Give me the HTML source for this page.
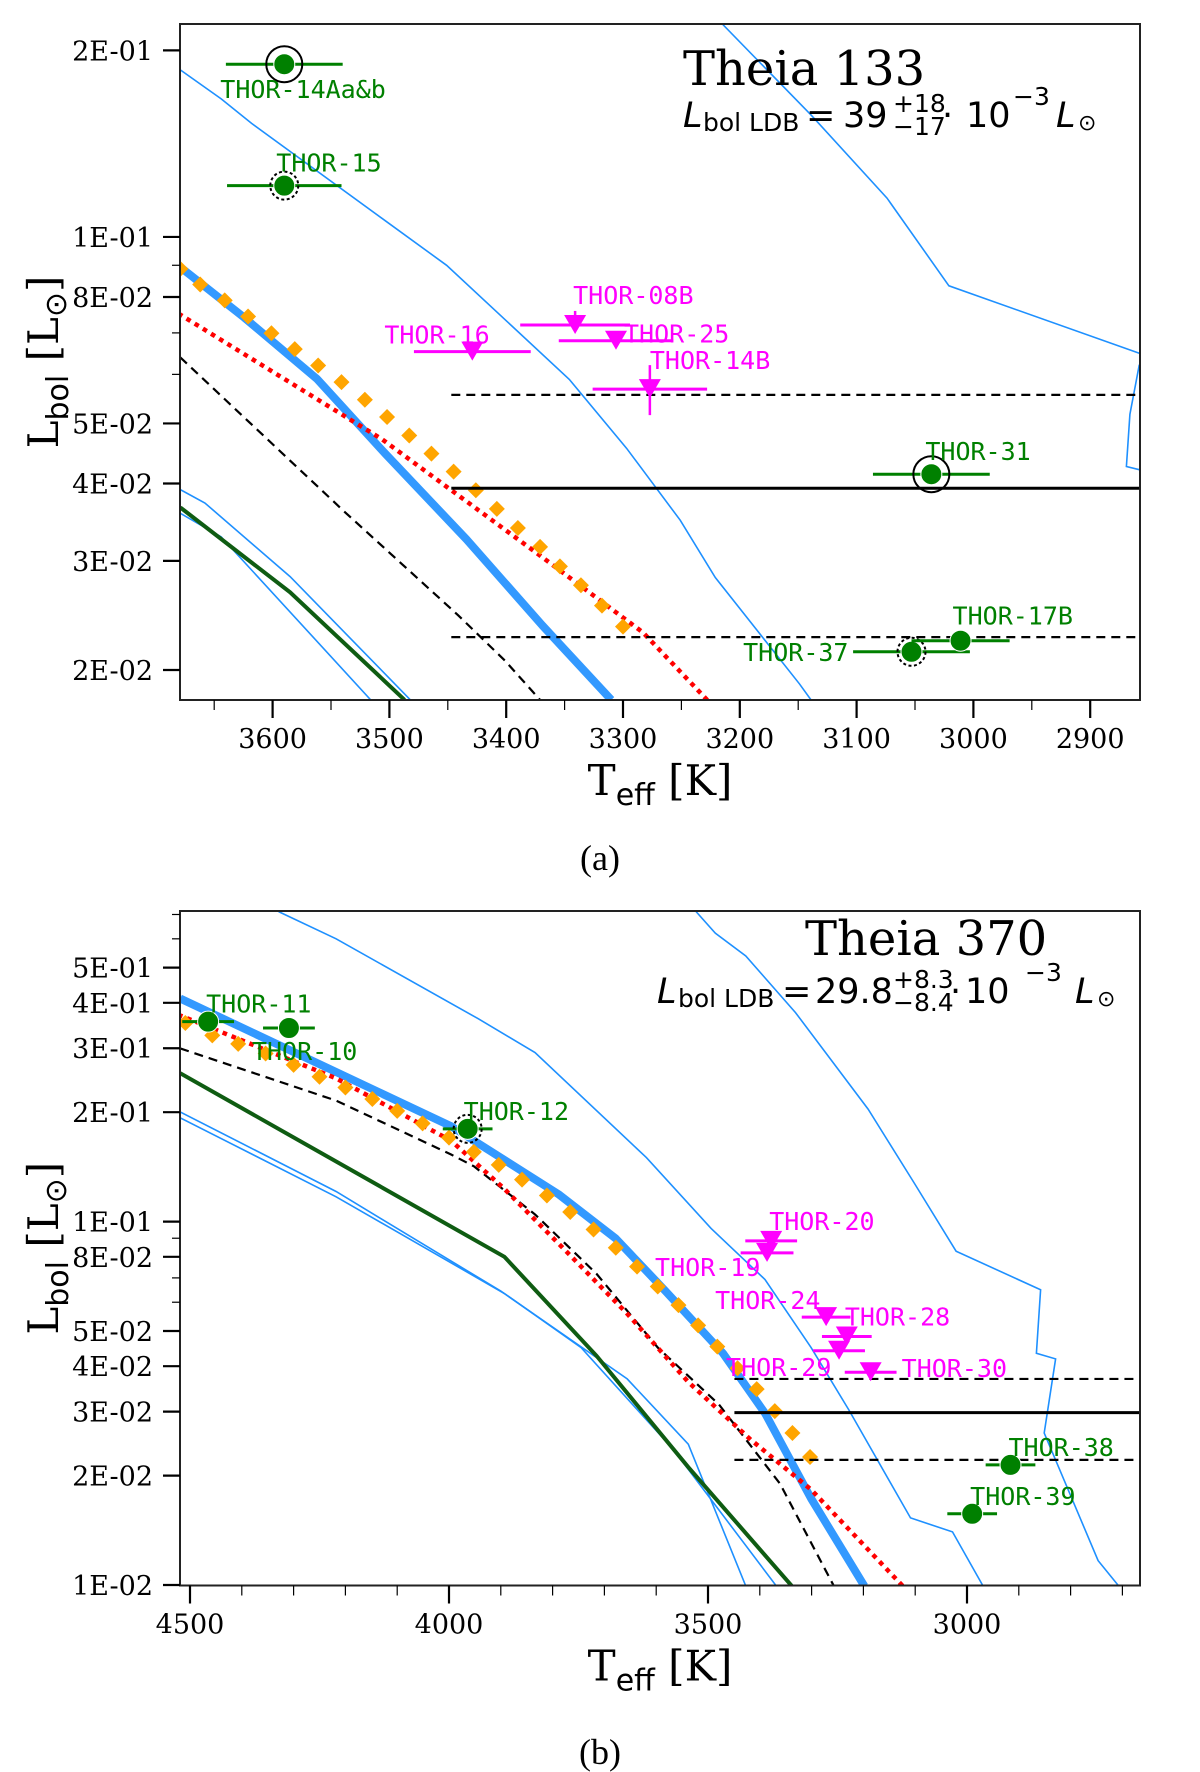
<!DOCTYPE html>
<html><head><meta charset="utf-8"><style>
html,body{margin:0;padding:0;background:#fff;}
svg{display:block;}
</style></head><body>
<svg id="fig" xmlns="http://www.w3.org/2000/svg" width="1200" height="1772" viewBox="0 0 1200 1772">
<defs>
<clipPath id="clipA"><rect x="180" y="24" width="960" height="676"/></clipPath>
<clipPath id="clipB"><rect x="180" y="911" width="960" height="674.5"/></clipPath>
</defs>
</svg>
<script>
// ===== Panel (a) Theia 133 data =====
const aThickT=[3679,3624,3562,3506,3434,3369,3310];
const aThickL=[0.0894,0.0740,0.0590,0.0452,0.0325,0.0236,0.0179];
const aDiaT=[3679,3662,3641,3621,3601,3581,3561,3541,3521,3502,3483,3464,3445,3426,3408,3390,3371,3354,3336,3318,3300];
const aDiaL=[0.0888,0.0838,0.0790,0.0744,0.0699,0.0659,0.0620,0.0583,0.0546,0.0512,0.0478,0.0447,0.0418,0.0390,0.0364,0.0339,0.0316,0.0294,0.0274,0.0254,0.0235];
const aRedT=[3679,3506,3375,3283,3228];
const aRedL=[0.0749,0.0471,0.0310,0.0230,0.0179];
const aDashT=[3679,3539,3441,3401,3371];
const aDashL=[0.0639,0.0361,0.0245,0.0207,0.0179];
const aGreenT=[3679,3585,3487];
const aGreenL=[0.0366,0.0267,0.0179];
const aBlue1T=[3679,3658,3585,3482];
const aBlue1L=[0.0391,0.0372,0.0283,0.0179];
const aBlue2T=[3679,3644,3516];
const aBlue2L=[0.0358,0.0328,0.0179];
const aBlue3T=[3679,3644,3618,3503,3451,3346,3297,3251,3221,3149,3139];
const aBlue3L=[0.186,0.167,0.1525,0.106,0.090,0.0589,0.0456,0.0349,0.0282,0.0190,0.0179];
const aBlue4T=[3215,3139,3074,3021,2858];
const aBlue4L=[0.2206,0.1574,0.1155,0.0834,0.0649];
const aBlue5T=[2858,2866,2869,2858];
const aBlue5L=[0.0622,0.0517,0.0426,0.0421];
const aLdb=[0.0393,0.0556,0.0226];
const aLdbStartT=3447;
const aStarNames=['THOR-14Aa&b','THOR-15','THOR-31','THOR-37','THOR-17B'];
const aStarT=[3590,3590,3036,3053,3011];
const aStarL=[0.190,0.121,0.0414,0.0214,0.0223];
const aStarErr=[50,49,50,50,42];
const aStarRing=['solid','dashed','solid','dashed','none'];
const aUpNames=['THOR-16','THOR-08B','THOR-25','THOR-14B'];
const aUpT=[3429,3341,3306,3277];
const aUpL=[0.0653,0.0721,0.0680,0.0568];
const aUpErr=[50,47,49,49];
const aXTicks=[3600,3500,3400,3300,3200,3100,3000,2900];
const aXMinor=[3650,3550,3450,3350,3250,3150,3050,2950];
const aYTicks=[0.2,0.1,0.08,0.05,0.04,0.03,0.02];
const aYTickLabels=['2E-01','1E-01','8E-02','5E-02','4E-02','3E-02','2E-02'];
const aYMinor=[0.09,0.07,0.06];

// ===== Panel (b) Theia 370 data =====
const bThickT=[4519,3996,3789,3678,3582,3471,3390,3301,3198];
const bThickL=[0.411,0.183,0.119,0.0898,0.0644,0.0434,0.0297,0.0173,0.00993];
const bDiaT=[4509,4457,4407,4354,4300,4250,4200,4148,4100,4051,4000,3952,3904,3859,3811,3766,3721,3678,3637,3597,3557,3519,3482,3443,3406,3371,3337,3303];
const bDiaL=[0.352,0.3255,0.3084,0.2901,0.2700,0.2503,0.2338,0.2175,0.2017,0.1863,0.1703,0.1556,0.1433,0.1305,0.1180,0.1063,0.0951,0.0847,0.0752,0.0663,0.0589,0.0518,0.0453,0.0395,0.0346,0.0301,0.0262,0.0225];
const bRedT=[4519,4218,3996,3893,3774,3656,3538,3420,3301,3124];
const bRedL=[0.369,0.248,0.167,0.123,0.0829,0.0558,0.0362,0.0253,0.0183,0.00993];
const bDashT=[4519,4218,3996,3952,3834,3715,3597,3479,3361,3257];
const bDashL=[0.2997,0.2153,0.153,0.142,0.1047,0.0718,0.045,0.0314,0.0190,0.00993];
const bGreenT=[4519,3893,3715,3538,3338];
const bGreenL=[0.256,0.080,0.0427,0.0211,0.00993];
const bBlue1T=[4519,4218,3900,3656,3538,3427];
const bBlue1L=[0.2004,0.121,0.0644,0.0369,0.0244,0.00993];
const bBlue2T=[4519,4218,3893,3745,3567,3368];
const bBlue2L=[0.193,0.117,0.0634,0.045,0.0236,0.00993];
const bBlue3T=[4329,4218,3944,3834,3619,3494,3390,3301,3228,3109,3028,2969];
const bBlue3L=[0.713,0.600,0.362,0.292,0.150,0.0958,0.0693,0.045,0.0303,0.0153,0.0140,0.00993];
const bBlue4T=[3523,3486,3427,3331,3191,3102,3021,2858,2866,2829,2851,2747,2707];
const bBlue4L=[0.713,0.622,0.538,0.376,0.204,0.1277,0.0829,0.0649,0.0434,0.0419,0.0262,0.01167,0.00993];
const bLdb=[0.0298,0.0369,0.0221];
const bLdbStartT=3449;
const bStarNames=['THOR-11','THOR-10','THOR-12','THOR-38','THOR-39'];
const bStarT=[4465,4309,3964,2916,2990];
const bStarL=[0.355,0.341,0.180,0.0214,0.0157];
const bStarErr=[50,50,48,48,48];
const bStarRing=['none','none','dashed','none','none'];
const bUpNames=['THOR-20','THOR-19','THOR-24','THOR-28','THOR-29','THOR-30'];
const bUpT=[3378,3386,3272,3232,3247,3186];
const bUpL=[0.0885,0.082,0.0546,0.0483,0.0441,0.0385];
const bUpErr=[50,51,47,48,50,50];
const bXTicks=[4500,4000,3500,3000];
const bXMinor=[4400,4300,4200,4100,3900,3800,3700,3600,3400,3300,3200,3100,2900,2800,2700];
const bYTicks=[0.5,0.4,0.3,0.2,0.1,0.08,0.05,0.04,0.03,0.02,0.01];
const bYTickLabels=['5E-01','4E-01','3E-01','2E-01','1E-01','8E-02','5E-02','4E-02','3E-02','2E-02','1E-02'];
const bYMinor=[0.7,0.6,0.09,0.07,0.06];

// ===== axis functions =====
function xa(T){return 272.6+(3600-T)*1.168;}
function ya(L){return 50.4+(Math.log10(0.2)-Math.log10(L))*619.6;}
function xb(T){return 190+(4500-T)*0.518;}
function yb(L){return 1221.6+(-1-Math.log10(L))*363.4;}

const NS='http://www.w3.org/2000/svg';
const svg=document.getElementById('fig');
function mk(tag,attrs,parent){const e=document.createElementNS(NS,tag);for(const k in attrs)e.setAttribute(k,attrs[k]);(parent||svg).appendChild(e);return e;}
function pts(Ts,Ls,fx,fy){return Ts.map((t,i)=>fx(t).toFixed(1)+','+fy(Ls[i]).toFixed(1)).join(' ');}

function panel(P){
  const g=mk('g',{});
  
  
  const plot=mk('g',{'clip-path':'url(#'+P.clip+')'},g);
  
  
  const fx=P.fx, fy=P.fy;
  function line(Ts,Ls,style,name){
    const e=mk('polyline',Object.assign({points:pts(Ts,Ls,fx,fy),fill:'none'},style),plot);
    
    
  }
  line(P.blue3T,P.blue3L,{stroke:'#1e90ff','stroke-width':1.6},P.id+'-isochrone-upper');
  line(P.blue4T,P.blue4L,{stroke:'#1e90ff','stroke-width':1.6},P.id+'-isochrone-right');
  if(P.blue5T) line(P.blue5T,P.blue5L,{stroke:'#1e90ff','stroke-width':1.6},P.id+'-isochrone-edge');
  line(P.blue1T,P.blue1L,{stroke:'#1e90ff','stroke-width':1.6},P.id+'-isochrone-lower-1');
  line(P.blue2T,P.blue2L,{stroke:'#1e90ff','stroke-width':1.6},P.id+'-isochrone-lower-2');
  line(P.greenT,P.greenL,{stroke:'#0f5c12','stroke-width':4},P.id+'-model-green');
  line(P.dashT,P.dashL,{stroke:'#000','stroke-width':2.2,'stroke-dasharray':'9 6'},P.id+'-model-dashed');
  line(P.thickT,P.thickL,{stroke:'#3399ff','stroke-width':8,'stroke-linejoin':'round'},P.id+'-model-thick-blue');
  line(P.redT,P.redL,{stroke:'#ff0000','stroke-width':4.5,'stroke-dasharray':'0.1 9.5','stroke-linecap':'square'},P.id+'-model-red-dotted');
  P.diaT.forEach((t,i)=>{
    const cx=fx(t), cy=fy(P.diaL[i]);
    const d=mk('polygon',{points:`${cx},${cy-8} ${cx+8},${cy} ${cx},${cy+8} ${cx-8},${cy}`,fill:'#ffa500'},plot);
    
    
  });
  const x0=fx(P.ldbStart);
  const styles=[{stroke:'#000','stroke-width':3},{stroke:'#000','stroke-width':2.2,'stroke-dasharray':'9 6'},{stroke:'#000','stroke-width':2.2,'stroke-dasharray':'9 6'}];
  const names=['ldb-line','ldb-upper-limit','ldb-lower-limit'];
  P.ldb.forEach((L,i)=>{
    const e=mk('line',Object.assign({x1:x0,x2:1140,y1:fy(L),y2:fy(L)},styles[i]),plot);
    
    
  });
  P.upT.forEach((t,i)=>{
    const cx=fx(t), cy=fy(P.upL[i]);
    const gg=mk('g',{},plot);
    
    
    mk('line',{x1:fx(t+P.upErr[i]),x2:fx(t-P.upErr[i]),y1:cy,y2:cy,stroke:'#ff00ff','stroke-width':3},gg);
    mk('polygon',{points:`${cx-11},${cy-10} ${cx+11},${cy-10} ${cx},${cy+9}`,fill:'#ff00ff'},gg);
    if(P.upVert&&P.upVert[i]) mk('line',{x1:cx,x2:cx,y1:cy-P.upVert[i][0],y2:cy+P.upVert[i][1],stroke:'#ff00ff','stroke-width':2.5},gg);
    const o=P.upOff[i];
    const tx=mk('text',{x:cx+o[0],y:cy+o[1],fill:'#ff00ff','font-family':'"DejaVu Sans Mono","Liberation Mono",monospace','font-size':25,'text-anchor':o[2]||'start'},gg);
    tx.textContent=P.upNames[i];
  });
  P.starT.forEach((t,i)=>{
    const cx=fx(t), cy=fy(P.starL[i]);
    const gg=mk('g',{},plot);
    
    
    mk('line',{x1:fx(t+P.starErr[i]),x2:fx(t-P.starErr[i]),y1:cy,y2:cy,stroke:'#008000','stroke-width':3},gg);
    mk('circle',{cx:cx,cy:cy,r:10.5,fill:'#008000',stroke:'#fff','stroke-width':1},gg);
    if(P.starRing[i]==='solid') mk('circle',{cx:cx,cy:cy,r:18,fill:'none',stroke:'#000','stroke-width':2},gg);
    if(P.starRing[i]==='dashed') mk('circle',{cx:cx,cy:cy,r:14,fill:'none',stroke:'#000','stroke-width':2,'stroke-dasharray':'3 2.5'},gg);
    const o=P.starOff[i];
    const tx=mk('text',{x:cx+o[0],y:cy+o[1],fill:'#008000','font-family':'"DejaVu Sans Mono","Liberation Mono",monospace','font-size':25,'text-anchor':o[2]||'start'},gg);
    tx.textContent=P.starNames[i];
  });
  const fr=mk('rect',{x:180,y:P.top,width:960,height:P.bottom-P.top,fill:'none',stroke:'#222','stroke-width':2},g);
  
  
  const xax=mk('g',{},g);
  
  
  P.xTicks.forEach(t=>{
    const x=fx(t);
    mk('line',{x1:x,x2:x,y1:P.bottom,y2:P.bottom+18,stroke:'#000','stroke-width':2.2},xax);
    const tx=mk('text',{x:x,y:P.bottom+48,'text-anchor':'middle','font-family':'"DejaVu Serif","Liberation Serif",serif','font-size':27},xax);
    tx.textContent=t;
  });
  P.xMinor.forEach(t=>{const x=fx(t);mk('line',{x1:x,x2:x,y1:P.bottom,y2:P.bottom+10,stroke:'#000','stroke-width':1.2},xax);});
  const yax=mk('g',{},g);
  
  
  P.yTicks.forEach((L,i)=>{
    const y=fy(L);
    mk('line',{x1:163,x2:180,y1:y,y2:y,stroke:'#000','stroke-width':2.2},yax);
    const tx=mk('text',{x:153,y:y+10,'text-anchor':'end','font-family':'"DejaVu Serif","Liberation Serif",serif','font-size':27},yax);
    tx.textContent=P.yLabels[i];
  });
  P.yMinor.forEach(L=>{const y=fy(L);mk('line',{x1:172,x2:180,y1:y,y2:y,stroke:'#000','stroke-width':1.2},yax);});
  const xt=mk('text',{x:660,y:P.bottom+95,'text-anchor':'middle','font-family':'"DejaVu Serif","Liberation Serif",serif','font-size':42},g);
  
  
  xt.innerHTML='T<tspan font-family="DejaVu Sans, sans-serif" font-size="30" dy="10">eff</tspan><tspan dy="-10"> [K]</tspan>';
  const cy=(P.top+P.bottom)/2;
  const yt=mk('text',{x:0,y:0,transform:`translate(58,${cy}) rotate(-90)`,'text-anchor':'middle','font-family':'"DejaVu Serif","Liberation Serif",serif','font-size':42},g);
  
  
  yt.innerHTML='L<tspan font-family="DejaVu Sans, sans-serif" font-size="30" dy="10">bol</tspan><tspan dy="-10"> [L</tspan><tspan font-family="DejaVu Sans, sans-serif" font-size="30" dy="8">⊙</tspan><tspan dy="-8">]</tspan>';
  const tt=mk('text',{x:P.titleX,y:P.titleY,'font-family':'"DejaVu Serif","Liberation Serif",serif','font-size':48},g);
  
  
  tt.textContent=P.title;
  const an=mk('g',{'font-family':'"DejaVu Sans","Liberation Sans",sans-serif',fill:'#000'},g);
  
  
  const A=P.ann, by=A.base;
  mk('text',{x:A.L,y:by,'font-size':35,'font-style':'italic'},an).textContent='L';
  mk('text',{x:A.sub,y:by+4,'font-size':25},an).textContent='bol LDB';
  mk('text',{x:A.eq,y:by,'font-size':35},an).textContent='=';
  mk('text',{x:A.num,y:by,'font-size':35},an).textContent=A.val;
  mk('text',{x:A.sup,y:by-15,'font-size':25},an).textContent=A.plus;
  mk('text',{x:A.sup,y:by+8,'font-size':25},an).textContent=A.minus;
  mk('text',{x:A.dot,y:by,'font-size':35},an).textContent='·';
  mk('text',{x:A.ten,y:by,'font-size':35},an).textContent='10';
  mk('text',{x:A.exp,y:by-22,'font-size':25},an).textContent='−3';
  mk('text',{x:A.Lsun,y:by,'font-size':35,'font-style':'italic'},an).textContent='L';
  mk('text',{x:A.Lsun+22,y:by+3,'font-size':22},an).textContent='⊙';
  const cp=mk('text',{x:600,y:P.capY,'text-anchor':'middle','font-family':'"Liberation Serif",serif','font-size':36},g);
  
  
  cp.textContent=P.cap;
}

panel({id:'panel-a',clip:'clipA',fx:xa,fy:ya,top:24,bottom:700,
  thickT:aThickT,thickL:aThickL,diaT:aDiaT,diaL:aDiaL,redT:aRedT,redL:aRedL,dashT:aDashT,dashL:aDashL,
  greenT:aGreenT,greenL:aGreenL,blue1T:aBlue1T,blue1L:aBlue1L,blue2T:aBlue2T,blue2L:aBlue2L,
  blue3T:aBlue3T,blue3L:aBlue3L,blue4T:aBlue4T,blue4L:aBlue4L,blue5T:aBlue5T,blue5L:aBlue5L,
  ldb:aLdb,ldbStart:aLdbStartT,
  starNames:aStarNames,starT:aStarT,starL:aStarL,starErr:aStarErr,starRing:aStarRing,
  starOff:[[-64,34],[-8,-14],[-6,-14],[-63,9,'end'],[-8,-16]],
  upNames:aUpNames,upT:aUpT,upL:aUpL,upErr:aUpErr,
  upOff:[[-88,-8],[-2,-21],[8,2],[0,-20]],upVert:[null,[14,0],null,[24,26]],
  xTicks:aXTicks,xMinor:aXMinor,yTicks:aYTicks,yLabels:aYTickLabels,yMinor:aYMinor,
  title:'Theia 133',titleX:683,titleY:85,
  ann:{base:127,L:683,sub:703,eq:806,num:843,val:'39',sup:893,dot:942,ten:966,exp:1013,Lsun:1056,plus:'+18',minus:'−17'},
  capY:870,cap:'(a)'});

panel({id:'panel-b',clip:'clipB',fx:xb,fy:yb,top:911,bottom:1585.5,
  thickT:bThickT,thickL:bThickL,diaT:bDiaT,diaL:bDiaL,redT:bRedT,redL:bRedL,dashT:bDashT,dashL:bDashL,
  greenT:bGreenT,greenL:bGreenL,blue1T:bBlue1T,blue1L:bBlue1L,blue2T:bBlue2T,blue2L:bBlue2L,
  blue3T:bBlue3T,blue3L:bBlue3L,blue4T:bBlue4T,blue4L:bBlue4L,
  ldb:bLdb,ldbStart:bLdbStartT,
  starNames:bStarNames,starT:bStarT,starL:bStarL,starErr:bStarErr,starRing:bStarRing,
  starOff:[[-2,-9],[-37,32],[-4,-9],[-2,-9],[-2,-9]],
  upNames:bUpNames,upT:bUpT,upL:bUpL,upErr:bUpErr,
  upOff:[[-2,-11],[-112,23],[-111,-8],[-2,-11],[-113,25],[31,5]],upVert:null,
  xTicks:bXTicks,xMinor:bXMinor,yTicks:bYTicks,yLabels:bYTickLabels,yMinor:bYMinor,
  title:'Theia 370',titleX:805,titleY:955,
  ann:{base:1003,L:657,sub:678,eq:782,num:815,val:'29.8',sup:893,dot:950,ten:965,exp:1025,Lsun:1075,plus:'+8.3',minus:'−8.4'},
  capY:1764,cap:'(b)'});
</script>
</body></html>
